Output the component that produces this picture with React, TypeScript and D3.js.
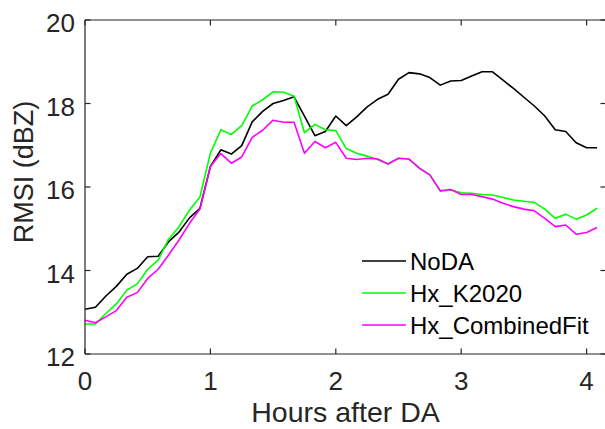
import React from "react";
import * as d3 from "d3";

const timeMinutes = [0,5,10,15,20,25,30,35,40,45,50,55,60,65,70,75,80,85,90,95,100,105,110,115,120,125,130,135,140,145,150,155,160,165,170,175,180,185,190,195,200,205,210,215,220,225,230,235,240,245];

const noDA = [13.07,13.12,13.39,13.62,13.91,14.05,14.33,14.34,14.69,14.92,15.26,15.49,16.49,16.89,16.79,16.99,17.56,17.81,18.0,18.07,18.16,17.7,17.23,17.33,17.7,17.47,17.68,17.92,18.1,18.22,18.58,18.74,18.71,18.62,18.44,18.54,18.55,18.66,18.76,18.76,18.56,18.36,18.15,17.94,17.7,17.37,17.33,17.06,16.94,16.94];

const hxK2020 = [12.72,12.72,12.97,13.2,13.53,13.68,14.03,14.25,14.75,15.05,15.45,15.76,16.81,17.37,17.26,17.47,17.94,18.09,18.28,18.27,18.18,17.3,17.5,17.37,17.35,16.92,16.81,16.74,16.66,16.55,16.69,16.67,16.45,16.29,15.9,15.93,15.86,15.85,15.82,15.81,15.75,15.69,15.66,15.63,15.47,15.25,15.35,15.23,15.33,15.49];

const hxCombinedFit = [12.81,12.75,12.89,13.04,13.36,13.47,13.81,14.03,14.37,14.73,15.13,15.47,16.49,16.8,16.57,16.72,17.19,17.36,17.6,17.55,17.55,16.81,17.09,16.94,17.07,16.69,16.66,16.69,16.67,16.55,16.69,16.67,16.45,16.29,15.91,15.94,15.82,15.82,15.77,15.71,15.61,15.53,15.47,15.43,15.25,15.05,15.09,14.87,14.91,15.03];

const seriesNames = ["NoDA", "Hx_K2020", "Hx_CombinedFit"];
const seriesColors = ["#000000", "#00ff00", "#ff00ff"];
const seriesValues = [noDA, hxK2020, hxCombinedFit];

const xTicks = [0, 1, 2, 3, 4];
const yTicks = [12, 14, 16, 18, 20];

const W = 605;
const H = 429;
const left = 85;
const right = 606;
const top = 20;
const bottom = 354;
const FONT = "'Liberation Sans', Arial, Helvetica, sans-serif";
const AX = "#262626";

export default function App() {
  const x = d3.scaleLinear().domain([0, (right - left) / 125.4]).range([left, right]);
  const y = d3.scaleLinear().domain([12, 20]).range([bottom, top]);
  const line = d3
    .line<number>()
    .x((_, i) => x(timeMinutes[i] / 60))
    .y((d) => y(d));
  const tl = 5.5;

  return (
    <svg
      width={W}
      height={H}
      style={{ position: "absolute", left: 0, top: 0, background: "#fff" }}
      fontFamily={FONT}
    >
      <rect x={0} y={0} width={W} height={H} fill="#fff" />
      {seriesValues.map((vals, k) => (
        <path key={k} d={line(vals) || ""} fill="none" stroke={seriesColors[k]} strokeWidth={1.6} strokeLinejoin="round" />
      ))}
      <g stroke={AX} strokeWidth={1.2} fill="none">
        <line x1={left} x2={right} y1={bottom} y2={bottom} />
        <line x1={left} x2={right} y1={top} y2={top} />
        <line x1={left} x2={left} y1={top} y2={bottom} />
        <line x1={right} x2={right} y1={top} y2={bottom} />
        {xTicks.map((t) => (
          <g key={"xt" + t}>
            <line x1={x(t)} x2={x(t)} y1={bottom} y2={bottom - tl} />
            <line x1={x(t)} x2={x(t)} y1={top} y2={top + tl} />
          </g>
        ))}
        {yTicks.map((t) => (
          <g key={"yt" + t}>
            <line x1={left} x2={left + tl} y1={y(t)} y2={y(t)} />
            <line x1={right} x2={right - tl} y1={y(t)} y2={y(t)} />
          </g>
        ))}
      </g>
      {xTicks.map((t) => (
        <text key={"xl" + t} x={x(t)} y={bottom + 36} textAnchor="middle" fontSize={26} fill={AX}>
          {t}
        </text>
      ))}
      {yTicks.map((t) => (
        <text key={"yl" + t} x={left - 10} y={y(t) + 12} textAnchor="end" fontSize={26} fill={AX}>
          {t}
        </text>
      ))}
      <text x={(left + right) / 2} y={422} textAnchor="middle" fontSize={28.5} fill={AX}>
        Hours after DA
      </text>
      <text
        transform={`translate(33,${172}) rotate(-90)`}
        textAnchor="middle"
        fontSize={27}
        fill={AX}
      >
        RMSI (dBZ)
      </text>
      {seriesNames.map((name, k) => (
        <g key={name}>
          <line x1={362} x2={406} y1={261 + k * 32} y2={261 + k * 32} stroke={seriesColors[k]} strokeWidth={1.6} />
          <text x={410} y={261 + k * 32 + 9} fontSize={24} fill="#000">
            {name}
          </text>
        </g>
      ))}
    </svg>
  );
}
